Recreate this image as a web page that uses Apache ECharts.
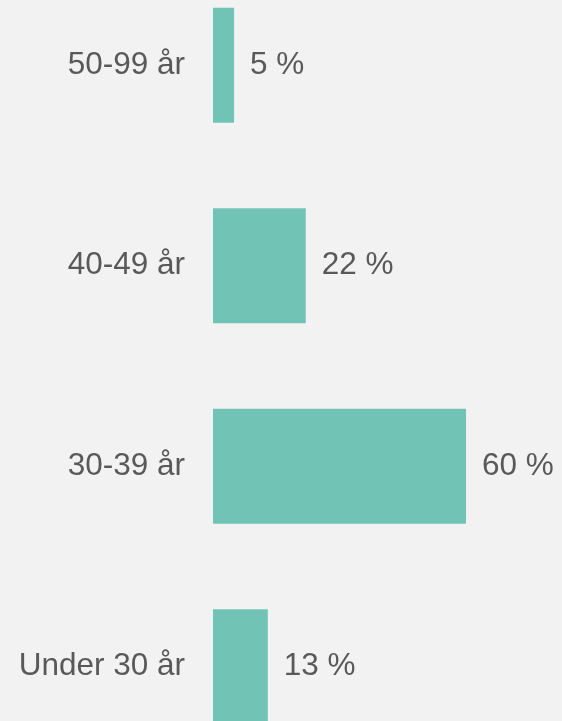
<!DOCTYPE html>
<html>
<head>
<meta charset="utf-8">
<style>
  html, body { margin: 0; padding: 0; background: #f2f2f2; overflow: hidden; }
  /* the plot runs past the window at top and bottom, like the original */
  #chart { width: 562px; height: 802px; margin-top: -35px; }
</style>
<script src="https://cdn.jsdelivr.net/npm/echarts@6/dist/echarts.min.js"></script>
</head>
<body>
<div id="chart"></div>
<script>
// age groups, top to bottom
const categories = ['50-99 år', '40-49 år', '30-39 år', 'Under 30 år'];
const shares = [5, 22, 60, 13];

const chart = echarts.init(document.getElementById('chart'), null, { renderer: 'canvas' });

chart.setOption({
  animation: false,
  backgroundColor: '#f2f2f2',
  grid: { left: 213, width: 253, top: 0, height: 802 },
  xAxis: {
    type: 'value',
    min: 0,
    max: 60,
    show: false
  },
  yAxis: {
    type: 'category',
    data: categories,
    inverse: true,
    axisLine: { show: false },
    axisTick: { show: false },
    axisLabel: {
      margin: 28,
      color: '#595959',
      fontSize: 31.5,
      fontFamily: 'Liberation Sans, Arial, sans-serif'
    }
  },
  series: [{
    type: 'bar',
    data: shares,
    barWidth: 115,
    itemStyle: { color: '#71c4b5' },
    label: {
      show: true,
      position: 'right',
      distance: 16,
      color: '#595959',
      fontSize: 31.5,
      fontFamily: 'Liberation Sans, Arial, sans-serif',
      formatter: p => p.value + ' %'
    }
  }]
});
</script>
</body>
</html>
